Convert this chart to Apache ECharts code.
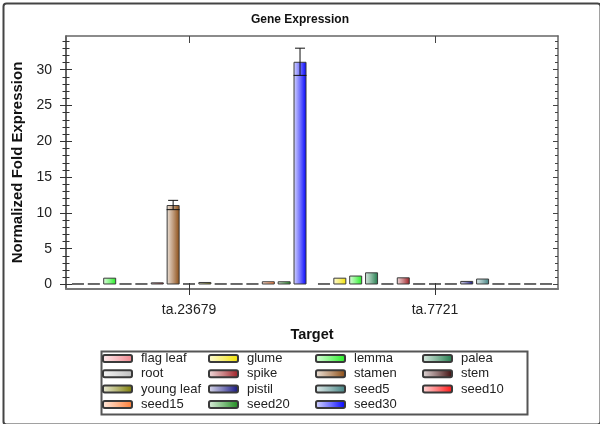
<!DOCTYPE html>
<html>
<head>
<meta charset="utf-8">
<script src="https://cdn.jsdelivr.net/npm/echarts@6/dist/echarts.min.js"></script>
<style>html,body{margin:0;padding:0;background:#fff}#c{width:600px;height:424px}</style>
</head>
<body>
<div id="c"></div>
<script>
// ---- data ----
const categories = ['ta.23679', 'ta.7721'];
const sampleNames = ['flag leaf','glume','lemma','palea','root','spike','stamen','stem','young leaf','pistil','seed5','seed10','seed15','seed20','seed30'];
const flagLeaf  = [0.05, 0];
const glume     = [0, 0.95];
const lemma     = [0.95, 1.25];
const palea     = [0, 1.7];
const root      = [0, 0];
const spike     = [0.3, 1.0];
const stamen    = [11.1, 0];
const stem      = [0, 0];
const youngLeaf = [0.35, 0];
const pistil    = [0, 0.5];
const seed5     = [0, 0.83];
const seed10    = [0, 0];
const seed15    = [0.45, 0];
const seed20    = [0.45, 0];
const seed30    = [31.1, 0];
const stamenError = [0.65, 0];
const seed30Error = [1.9, 0];
const yTickValues = [0, 5, 10, 15, 20, 25, 30];

// ---- styling ----
const sampleColors = ['#f0848c','#f2e200','#22ee22','#1e7a4a','#bdbdbd','#9e1c22','#8a4a10','#3c0808','#7a7a00','#101080','#3f8080','#ff1010','#ff7a30','#1a8a1a','#0000ff'];
const sampleValues = [flagLeaf, glume, lemma, palea, root, spike, stamen, stem, youngLeaf, pistil, seed5, seed10, seed15, seed20, seed30];
const sampleErrors = {6: stamenError, 14: seed30Error};
const FONT = '"Liberation Sans", Arial, sans-serif';
const BAR_W = 13, BAR_GAP = 0.22;
const Y_MIN = -0.63, Y_MAX = 34.7;
const minorTickValues = [];
for (let v = 1; v < 35; v++) if (v % 5) minorTickValues.push(v);

function mix(hex, t) {
  const n = parseInt(hex.slice(1), 16);
  const r = (n >> 16) & 255, g = (n >> 8) & 255, b = n & 255;
  const m = c => Math.round(c + (255 - c) * t);
  return 'rgb(' + m(r) + ',' + m(g) + ',' + m(b) + ')';
}
function grad(c) {
  return {type: 'linear', x: 0, y: 0, x2: 1, y2: 0,
    colorStops: [{offset: 0, color: mix(c, 0.85)}, {offset: 0.5, color: mix(c, 0.45)}, {offset: 1, color: c}]};
}

const series = sampleNames.map((name, i) => ({
  name: name, type: 'bar', xAxisIndex: 0, yAxisIndex: 0,
  barWidth: BAR_W, barGap: (BAR_GAP * 100) + '%', barMinHeight: 1,
  itemStyle: {color: grad(sampleColors[i]), borderColor: '#3a3a3a', borderWidth: 1},
  data: sampleValues[i]
}));

const errData = [];
Object.keys(sampleErrors).forEach(k => {
  const si = +k;
  sampleErrors[k].forEach((e, c) => {
    if (e > 0) errData.push([c, sampleValues[si][c] - e, sampleValues[si][c] + e, si]);
  });
});
series.push({
  type: 'custom', xAxisIndex: 0, yAxisIndex: 0, z: 5, silent: true,
  data: errData,
  renderItem: function (params, api) {
    const c = api.value(0), lo = api.value(1), hi = api.value(2), si = api.value(3);
    const pitch = BAR_W * (1 + BAR_GAP);
    const pHi = api.coord([c, hi]), pLo = api.coord([c, lo]);
    const x = pHi[0] + (si - (sampleNames.length - 1) / 2) * pitch;
    const hw = 5;
    const st = {stroke: '#111', lineWidth: 1};
    return {type: 'group', children: [
      {type: 'line', shape: {x1: x, y1: pHi[1], x2: x, y2: pLo[1]}, style: st},
      {type: 'line', shape: {x1: x - hw, y1: pHi[1], x2: x + hw, y2: pHi[1]}, style: st},
      {type: 'line', shape: {x1: x - BAR_W / 2, y1: pLo[1], x2: x + BAR_W / 2, y2: pLo[1]}, style: st}
    ]};
  }
});

function yAx(extra) {
  return Object.assign({type: 'value', min: Y_MIN, max: Y_MAX, splitLine: {show: false},
    axisLabel: {show: false}, axisLine: {show: false}}, extra);
}
const yAxes = [
  yAx({position: 'left', name: 'Normalized Fold Expression', nameLocation: 'middle', nameGap: 41,
       nameTextStyle: {fontFamily: FONT, fontSize: 15, fontWeight: 'bold', color: '#111'},
       axisLine: {show: true, lineStyle: {color: '#333', width: 1.5}},
       axisTick: {show: true, customValues: yTickValues, length: 6, lineStyle: {color: '#333'}},
       axisLabel: {show: true, customValues: yTickValues, margin: 14, fontSize: 14, fontFamily: FONT, color: '#222'}}),
  yAx({position: 'left', axisTick: {show: true, inside: true, customValues: yTickValues, length: 6, lineStyle: {color: '#333'}}}),
  yAx({position: 'left', axisTick: {show: true, customValues: minorTickValues, length: 3.5, lineStyle: {color: '#333'}}}),
  yAx({position: 'left', axisTick: {show: true, inside: true, customValues: minorTickValues, length: 3.5, lineStyle: {color: '#333'}}}),
  yAx({position: 'right', axisLine: {show: true, lineStyle: {color: '#666', width: 1.5}},
       axisTick: {show: true, inside: true, customValues: yTickValues, length: 5, lineStyle: {color: '#444'}}}),
  yAx({position: 'right', axisTick: {show: true, inside: true, customValues: minorTickValues, length: 3, lineStyle: {color: '#444'}}})
];
const xAxes = [
  {type: 'category', data: categories, position: 'bottom',
   name: 'Target', nameLocation: 'middle', nameGap: 38,
   nameTextStyle: {fontFamily: FONT, fontSize: 14.5, fontWeight: 'bold', color: '#111'},
   axisLine: {show: true, onZero: false, lineStyle: {color: '#777', width: 2}},
   axisTick: {show: true, alignWithLabel: true, length: 6, lineStyle: {color: '#333'}},
   axisLabel: {margin: 14.5, fontSize: 14, fontFamily: FONT, color: '#222'}},
  {type: 'category', data: categories, position: 'bottom',
   axisLine: {show: false, onZero: false},
   axisTick: {show: true, inside: true, alignWithLabel: true, length: 6, lineStyle: {color: '#333'}},
   axisLabel: {show: false}},
  {type: 'category', data: categories, position: 'top',
   axisLine: {show: true, onZero: false, lineStyle: {color: '#666', width: 1.5}},
   axisTick: {show: true, inside: true, alignWithLabel: true, length: 7, lineStyle: {color: '#444'}},
   axisLabel: {show: false}}
];

const legendCols = [
  ['flag leaf', 'root', 'young leaf', 'seed15'],
  ['glume', 'spike', 'pistil', 'seed20'],
  ['lemma', 'stamen', 'seed5', 'seed30'],
  ['palea', 'stem', 'seed10']
];
const legendLefts = [102, 208, 315, 422];
const legends = legendCols.map((col, i) => ({
  data: col, orient: 'vertical', left: legendLefts[i], top: 352, padding: 0,
  itemWidth: 29, itemHeight: 7, itemGap: 2.3, icon: 'roundRect',
  textStyle: {fontFamily: FONT, fontSize: 13, color: '#222', lineHeight: 13, padding: [0, 0, 0, 4]}
}));

const chart = echarts.init(document.getElementById('c'), null, {renderer: 'canvas'});
chart.setOption({
  animation: false,
  backgroundColor: '#fff',
  title: {text: 'Gene Expression', left: 'center', top: 14, padding: 0,
    textStyle: {fontFamily: FONT, fontSize: 12, fontWeight: 'bold', color: '#111'}},
  grid: {left: 66, right: 42, top: 36, bottom: 135, containLabel: false},
  legend: legends,
  xAxis: xAxes,
  yAxis: yAxes,
  series: series,
  graphic: [
    {type: 'rect', left: 1, top: 1, shape: {width: 597, height: 421, r: 3}, style: {fill: 'none', stroke: '#444', lineWidth: 2}, silent: true},
    {type: 'rect', left: 99, top: 349, shape: {width: 426, height: 63}, style: {fill: 'none', stroke: '#555', lineWidth: 2}, silent: true}
  ]
});
</script>
</body>
</html>
